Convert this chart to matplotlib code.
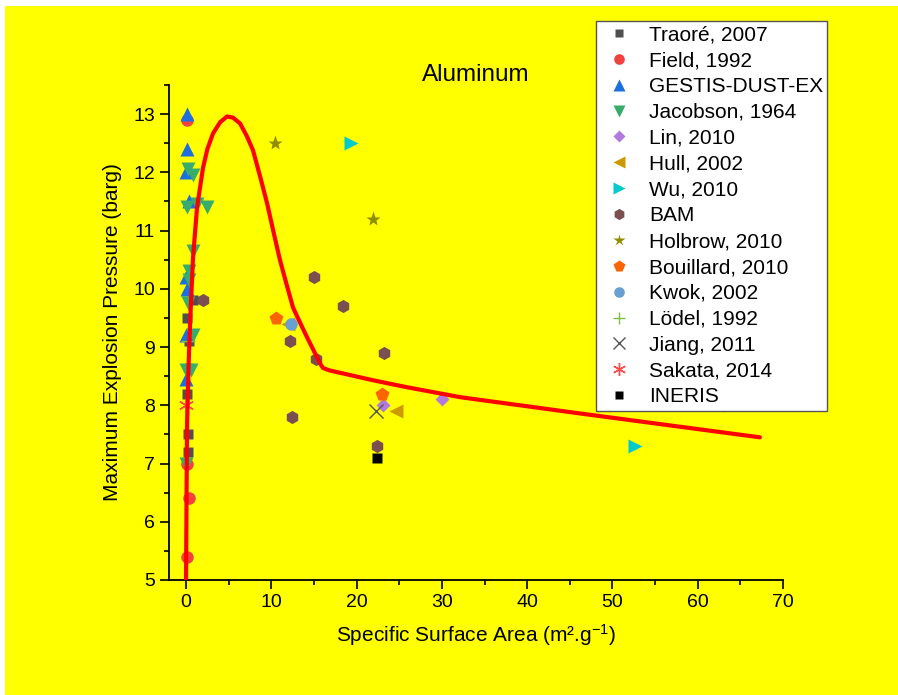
import matplotlib
matplotlib.use('Agg')
import matplotlib.pyplot as plt
from matplotlib.patches import Rectangle
from matplotlib.ticker import MultipleLocator

plt.rcParams['font.family'] = ['Liberation Sans', 'DejaVu Sans']

# data (x: m2/g, y: barg)
traore_x = [0.8, 0.1, 0.3, 0.1, 0.2, 0.2]
traore_y = [9.8, 9.5, 9.1, 8.2, 7.5, 7.2]
field_x = [0.1, 0.1, 0.4, 0.1]
field_y = [12.9, 7.0, 6.4, 5.4]
gestis_x = [0.1, 0.1, 0.0, 0.3, 0.0, 0.1, 0.0, 0.0]
gestis_y = [13.0, 12.4, 12.0, 11.5, 10.2, 10.0, 9.2, 8.45]
jacobson_x = [0.2, 0.8, 0.1, 1.3, 2.5, 0.8, 0.4, 0.3, 0.2, 0.8, 0.0, 0.6, 0.0]
jacobson_y = [12.05, 11.95, 11.4, 11.45, 11.4, 10.65, 10.3, 10.15, 9.75, 9.2, 8.6, 8.6, 7.0]
lin_x = [23.1, 30.0, 63.0]
lin_y = [8.0, 8.1, 8.0]
hull_x = [24.6, 12.0]
hull_y = [7.9, 9.4]
wu_x = [19.3, 52.7]
wu_y = [12.5, 7.3]
bam_x = [2.0, 15.0, 18.4, 12.2, 15.2, 23.2, 12.4, 22.4]
bam_y = [9.8, 10.2, 9.7, 9.1, 8.8, 8.9, 7.8, 7.3]
holbrow_x = [10.4, 21.9]
holbrow_y = [12.5, 11.2]
bouillard_x = [10.5, 23.0]
bouillard_y = [9.5, 8.2]
kwok_x = [12.3]
kwok_y = [9.4]
lodel_x = [0.2]
lodel_y = [9.1]
jiang_x = [22.3]
jiang_y = [7.9]
sakata_x = [0.0]
sakata_y = [8.0]
ineris_x = [22.4]
ineris_y = [7.1]

# fitted trend line
curve_x = [0.0, 0.06, 0.12, 0.3, 0.47, 0.82, 1.29, 1.99, 2.5, 3.17, 3.99, 4.81, 5.5, 6.33,
           7.1, 7.85, 8.7, 9.5, 10.25, 11.02, 11.8, 12.54, 13.4, 14.18, 15.0, 15.71, 16.06,
           16.8, 17.7, 21.92, 25.91, 32.12, 46.19, 67.29]
curve_y = [5.0, 6.5, 7.69, 8.7, 9.41, 10.54, 11.40, 12.08, 12.4, 12.67, 12.86, 12.96, 12.94, 12.84,
           12.63, 12.38, 11.92, 11.47, 10.98, 10.49, 10.07, 9.68, 9.41, 9.17, 8.93, 8.72, 8.64,
           8.6, 8.57, 8.43, 8.31, 8.14, 7.86, 7.45]

series = [
    ('Traoré, 2007', traore_x, traore_y, 's', '#4f4f4f', 7.5),
    ('Field, 1992', field_x, field_y, 'o', '#f14141', 9),
    ('GESTIS-DUST-EX', gestis_x, gestis_y, '^', '#1b6fdf', 9.5),
    ('Jacobson, 1964', jacobson_x, jacobson_y, 'v', '#38ad6b', 9.5),
    ('Lin, 2010', lin_x, lin_y, 'D', '#b27ade', 7.5),
    ('Hull, 2002', hull_x, hull_y, '<', '#cc9900', 9.5),
    ('Wu, 2010', wu_x, wu_y, '>', '#00cbcc', 9.5),
    ('BAM', bam_x, bam_y, 'h', '#7b4f4f', 9.5),
    ('Holbrow, 2010', holbrow_x, holbrow_y, '*', '#8e8e00', 11),
    ('Bouillard, 2010', bouillard_x, bouillard_y, 'p', '#fb6500', 10),
    ('Kwok, 2002', kwok_x, kwok_y, 'o', '#6a9fd4', 9),
    ('Lödel, 1992', lodel_x, lodel_y, '+', '#7ac143', 10),
    ('Jiang, 2011', jiang_x, jiang_y, 'x', '#555555', 10),
    ('Sakata, 2014', sakata_x, sakata_y, (6, 2, 0), '#ff4a4a', 11),
    ('INERIS', ineris_x, ineris_y, 's', '#000000', 7.5),
]

fig = plt.figure(figsize=(8.98, 6.95), dpi=100, facecolor='white')
fig.patches.append(Rectangle((5 / 898, 0), 1, 1 - 6 / 695, transform=fig.transFigure,
                             facecolor='#ffff00', edgecolor='none', zorder=-10))

ax = fig.add_axes([169 / 898, 115 / 695, 614 / 898, 495 / 695])
ax.patch.set_alpha(0)

for label, xs, ys, mk, col, ms in series:
    if mk in ('+', 'x') or isinstance(mk, tuple):
        ax.plot(xs, ys, linestyle='none', marker=mk, markersize=ms, markeredgecolor=col,
                markeredgewidth=1.0, color=col, label=label, zorder=3)
    else:
        ax.plot(xs, ys, linestyle='none', marker=mk, markersize=ms, markerfacecolor=col,
                markeredgecolor='none', color=col, label=label, zorder=3)

ax.plot(curve_x, curve_y, color='#ff0000', linewidth=3, solid_capstyle='round',
        solid_joinstyle='round', zorder=4)

ax.set_xlim(-2, 70)
ax.set_ylim(5, 13.5)
ax.xaxis.set_major_locator(MultipleLocator(10))
ax.xaxis.set_minor_locator(MultipleLocator(5))
ax.yaxis.set_major_locator(MultipleLocator(1))
ax.yaxis.set_minor_locator(MultipleLocator(0.5))
ax.spines['top'].set_visible(False)
ax.spines['right'].set_visible(False)
for s in ('left', 'bottom'):
    ax.spines[s].set_linewidth(1.3)
ax.tick_params(which='major', direction='out', length=6.5, width=1.2, labelsize=14)
ax.tick_params(which='minor', direction='out', length=3.5, width=1.2)

ax.set_xlabel('Specific Surface Area (m².g$\\mathregular{^{-1}}$)', fontsize=15, labelpad=8)
ax.set_ylabel('Maximum Explosion Pressure (barg)', fontsize=15, labelpad=8)
fig.text(476 / 898, 1 - 75 / 695, 'Aluminum', fontsize=17.5, ha='center', va='center')

leg = ax.legend(loc='upper left', bbox_to_anchor=(596 / 898, 1 - 21 / 695),
                bbox_transform=fig.transFigure, borderaxespad=0, fontsize=15,
                frameon=True, fancybox=False, edgecolor='#555555', framealpha=1,
                borderpad=0.2, handlelength=1.8, handletextpad=0.55, labelspacing=0.33,
                markerscale=0.85)
leg.get_frame().set_linewidth(1.0)
leg.set_zorder(10)

fig.savefig('out.png', dpi=100, facecolor=fig.get_facecolor())
